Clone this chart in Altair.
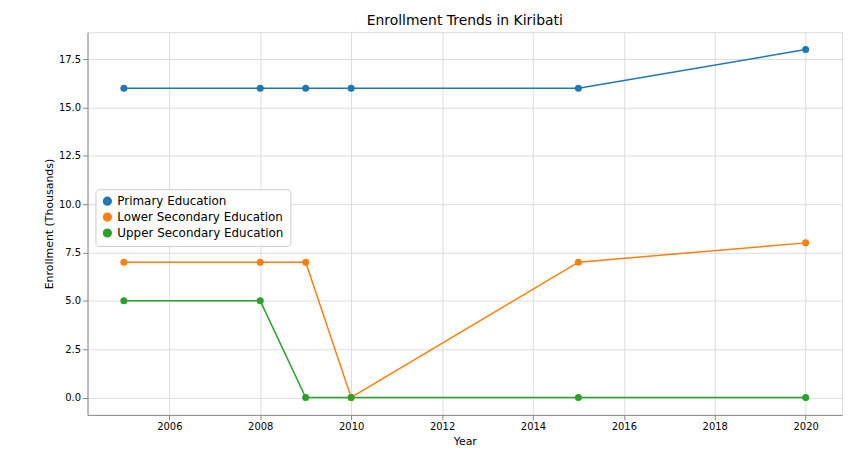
import altair as alt
import pandas as pd

years = [2005, 2008, 2009, 2010, 2015, 2020]
primary = [16, 16, 16, 16, 16, 18]
lower_secondary = [7, 7, 7, 0, 7, 8]
upper_secondary = [5, 5, 0, 0, 0, 0]
series_names = ["Primary Education", "Lower Secondary Education", "Upper Secondary Education"]
colors = ["#1f77b4", "#ff7f0e", "#2ca02c"]

rows = []
for name, vals in zip(series_names, [primary, lower_secondary, upper_secondary]):
    for y, v in zip(years, vals):
        rows.append({"Year": y, "Enrollment": v, "series": name})
df = pd.DataFrame(rows)

color = alt.Color("series:N", sort=series_names,
                  scale=alt.Scale(domain=series_names, range=colors),
                  legend=alt.Legend(title=None, orient="none", legendX=8, legendY=158,
                                    symbolType="circle", symbolSize=60, labelFontSize=12,
                                    labelLimit=300, fillColor="white", strokeColor="#cccccc",
                                    padding=6, cornerRadius=3))

x = alt.X("Year:Q", scale=alt.Scale(domain=[2004.2, 2020.8], nice=False, zero=False),
          axis=alt.Axis(values=list(range(2006, 2021, 2)), format="d", title="Year",
                        titleFontWeight="normal"))
y = alt.Y("Enrollment:Q", scale=alt.Scale(domain=[-0.9, 18.9], nice=False),
          axis=alt.Axis(values=[0, 2.5, 5, 7.5, 10, 12.5, 15, 17.5], format=".1f",
                        title="Enrollment (Thousands)", titleFontWeight="normal"))

base = alt.Chart(df).encode(x=x, y=y, color=color)
chart = (base.mark_line(strokeWidth=1.5) + base.mark_point(filled=True, size=50, opacity=1)).properties(
    width=759, height=385,
    title=alt.TitleParams("Enrollment Trends in Kiribati", fontWeight="normal", fontSize=14),
    padding={"left": 35, "top": 5, "right": 5, "bottom": 5}
).configure_axis(
    gridColor="#b0b0b0", labelFontSize=11, titleFontSize=12,
    labelColor="black", titleColor="black", domainColor="black", tickColor="black"
).configure_view(stroke="black").configure(font="DejaVu Sans")

chart.save("out.html", embed_options={"renderer": "svg", "actions": False})
